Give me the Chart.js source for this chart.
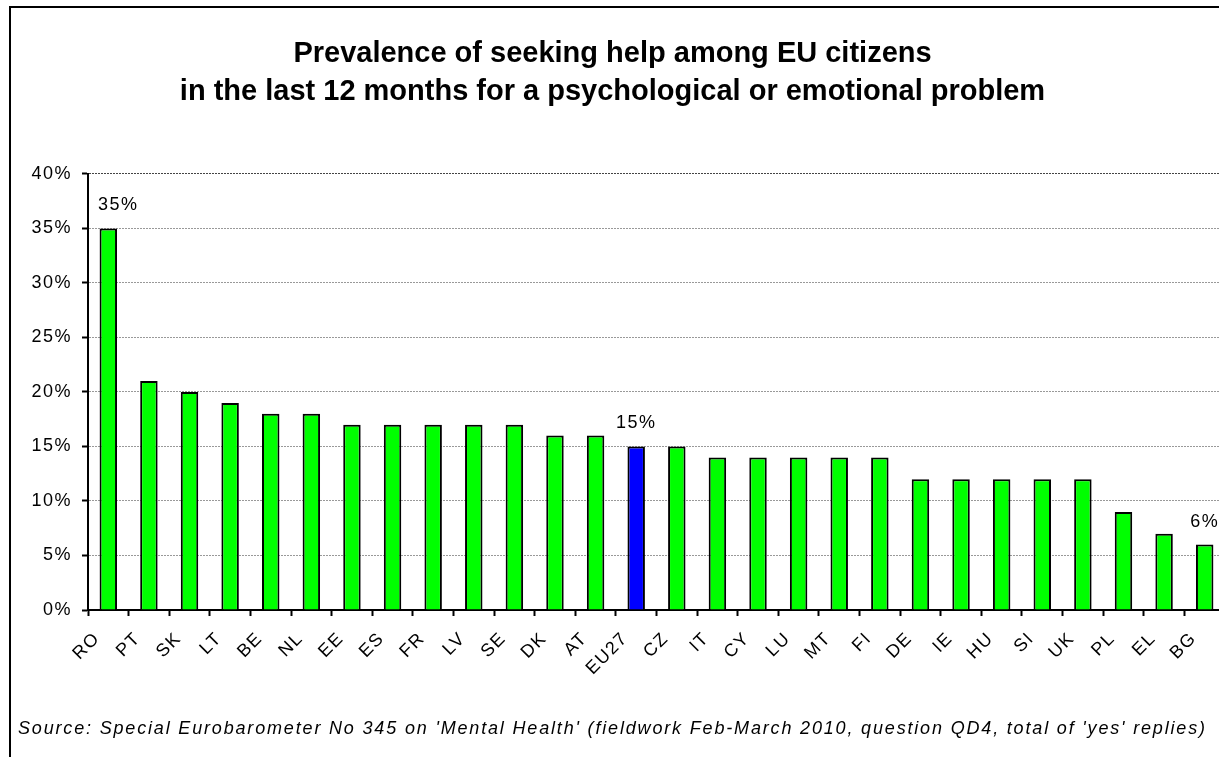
<!DOCTYPE html>
<html>
<head>
<meta charset="utf-8">
<title>Seeking help for psychological problems - EU</title>
<script src="https://cdn.jsdelivr.net/npm/chart.js@4/dist/chart.umd.min.js"></script>
<style>
  html, body { margin: 0; padding: 0; background: #fff; overflow: hidden; }
  #wrap { position: absolute; left: 0; top: 0; width: 1248px; height: 770px; }
  #frame { position: absolute; left: 9px; top: 6px; width: 1260px; height: 800px;
           border: 2px solid #000; pointer-events: none; }
</style>
</head>
<body>
<div id="wrap">
  <canvas id="helpChart" width="1248" height="770"></canvas>
</div>
<div id="frame"></div>

<script>
// Eurobarometer 345, share answering 'yes' (in %)
const countries = ['RO', 'PT', 'SK', 'LT', 'BE', 'NL', 'EE', 'ES', 'FR', 'LV', 'SE', 'DK', 'AT', 'EU27',
                   'CZ', 'IT', 'CY', 'LU', 'MT', 'FI', 'DE', 'IE', 'HU', 'SI', 'UK', 'PL', 'EL', 'BG'];
const helpShare = [35, 21, 20, 19, 18, 18, 17, 17, 17, 17, 17, 16, 16, 15,
                   15, 14, 14, 14, 14, 14, 12, 12, 12, 12, 12, 9, 7, 6];
const labelled = ['RO', 'EU27', 'BG'];   // bars that get their value written on top
const yMax = 40;
const yStep = 5;

const titleLines = [
    'Prevalence of seeking help among EU citizens',
    'in the last 12 months for a psychological or emotional problem'
];
const sourceNote = "Source: Special Eurobarometer No 345 on 'Mental Health' (fieldwork Feb-March 2010, question QD4, total of 'yes' replies)";

const FONT = '"Liberation Sans", Arial, sans-serif';

// the small print (ticks, value labels, source) is set wide, the title is not.
// tick labels are moved to z=1 so they are drawn after this switch.
const wideText = {
    id: 'wideText',
    afterDatasetsDraw(chart) {
        const ctx = chart.ctx;
        const meta = chart.getDatasetMeta(0);
        ctx.letterSpacing = '1.5px';

        ctx.save();
        ctx.font = '18px ' + FONT;
        ctx.fillStyle = '#000';
        ctx.textAlign = 'center';
        ctx.textBaseline = 'alphabetic';
        countries.forEach((c, i) => {
            if (!labelled.includes(c)) return;
            const bar = meta.data[i];
            const nudge = i === 0 ? 10 : 0;   // first label sits clear of the axis
            ctx.fillText(helpShare[i] + '%', bar.x + nudge, bar.y - 18);
        });
        ctx.restore();
    },
    afterDraw(chart) {
        const ctx = chart.ctx;
        ctx.save();
        ctx.letterSpacing = '1.83px';
        ctx.font = 'italic 18px ' + FONT;
        ctx.fillStyle = '#000';
        ctx.textAlign = 'left';
        ctx.textBaseline = 'alphabetic';
        ctx.fillText(sourceNote, 18, 734);
        ctx.restore();
        ctx.letterSpacing = '0px';
    }
};

new Chart(document.getElementById('helpChart'), {
    type: 'bar',
    data: {
        labels: countries,
        datasets: [{
            data: helpShare,
            backgroundColor: countries.map(c => c === 'EU27' ? '#0000ff' : '#00ff00'),
            borderColor: '#000',
            borderWidth: 2,
            barPercentage: 0.43,
            categoryPercentage: 1
        }]
    },
    options: {
        responsive: false,
        animation: false,
        layout: { padding: { left: 0, right: 23, top: 0, bottom: 52 } },
        plugins: {
            legend: { display: false },
            tooltip: { enabled: false },
            title: {
                display: true,
                text: titleLines,
                color: '#000',
                font: { family: FONT, size: 29, weight: 'bold', lineHeight: 1.31 },
                padding: { top: 35, bottom: 63 }
            }
        },
        scales: {
            x: {
                grid: {
                    offset: true,
                    drawOnChartArea: false,
                    tickLength: 6,
                    tickWidth: 2,
                    tickColor: '#000'
                },
                border: { color: '#000', width: 2 },
                ticks: {
                    z: 1,
                    color: '#000',
                    font: { family: FONT, size: 18 },
                    minRotation: 45,
                    maxRotation: 45,
                    autoSkip: false,
                    padding: 12,
                    labelOffset: -11
                },
                afterFit(scale) { scale.height = 108; }
            },
            y: {
                min: 0,
                max: yMax,
                grid: {
                    color: ctx => ctx.tick && ctx.tick.value === yMax ? '#444' : '#999',
                    lineWidth: 1,
                    tickLength: 6,
                    tickWidth: 2,
                    tickColor: '#000'
                },
                border: { color: '#000', width: 2, dash: [2, 1] },
                ticks: {
                    z: 1,
                    stepSize: yStep,
                    color: '#000',
                    font: { family: FONT, size: 18 },
                    padding: 10,
                    callback: v => v + '%'
                },
                afterFit(scale) { scale.width = 88; }
            }
        }
    },
    plugins: [wideText]
});
</script>
</body>
</html>
